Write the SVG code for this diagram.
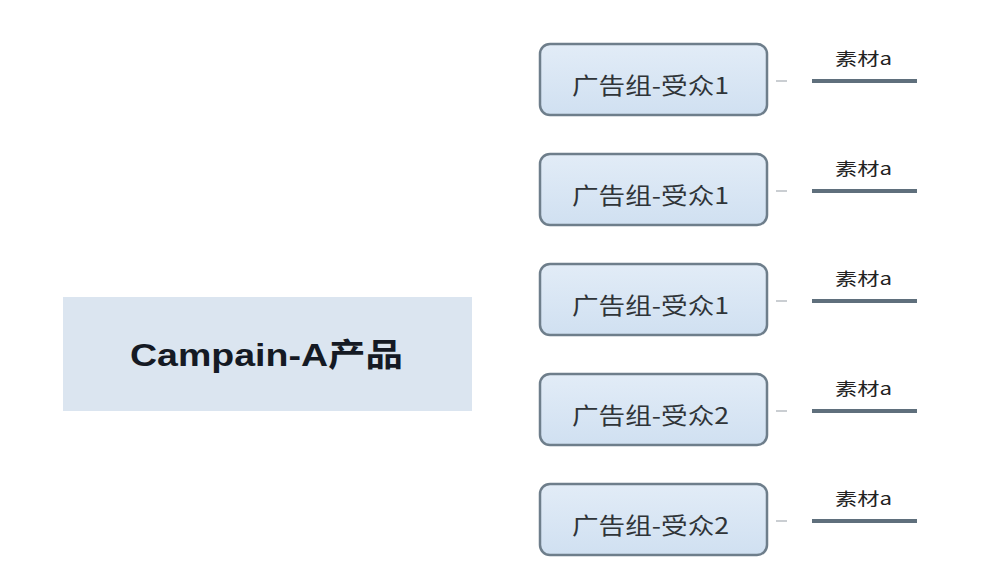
<svg xmlns="http://www.w3.org/2000/svg" width="996" height="571" viewBox="0 0 996 571">
<defs>
<linearGradient id="boxFill" x1="0" y1="0" x2="0" y2="1">
<stop offset="0" stop-color="#e2ecf7"/>
<stop offset="1" stop-color="#d0e0f1"/>
</linearGradient>
</defs>
<style>
.bg{fill:#ffffff}
.main{fill:#dbe5f0}
.mainText{font-family:"Liberation Sans","Noto Sans CJK SC",sans-serif;font-weight:bold;font-size:32px;fill:#151a24}
.box{fill:url(#boxFill);stroke:#6e7e8b;stroke-width:2.5}
.boxText{font-family:"Noto Sans CJK SC","Liberation Sans",sans-serif;font-size:23px;fill:#2f3438}
.leafText{font-family:"Noto Sans CJK SC","Liberation Sans",sans-serif;font-size:17px;fill:#222}
.leafLine{stroke:#5f6f7c;stroke-width:4}
.dash{stroke:#b8bec3;stroke-width:1.5}
</style>
<rect class="bg" x="0" y="0" width="996" height="571"/>
<g id="connectors">
<line class="dash" x1="776" y1="81" x2="787" y2="81"/>
<line class="dash" x1="776" y1="191" x2="787" y2="191"/>
<line class="dash" x1="776" y1="301" x2="787" y2="301"/>
<line class="dash" x1="776" y1="411" x2="787" y2="411"/>
<line class="dash" x1="776" y1="521" x2="787" y2="521"/>
</g>
<g id="root">
<rect class="main" x="63" y="297" width="409" height="114"/>
<text class="mainText" x="130" y="366" textLength="273" lengthAdjust="spacingAndGlyphs">Campain-A产品</text>
</g>
<g id="group1">
<rect class="box" x="540" y="44" width="227" height="71" rx="10"/>
<text class="boxText" x="572" y="94" textLength="157" lengthAdjust="spacingAndGlyphs">广告组-受众1</text>
</g>
<g id="group2">
<rect class="box" x="540" y="154" width="227" height="71" rx="10"/>
<text class="boxText" x="572" y="204" textLength="157" lengthAdjust="spacingAndGlyphs">广告组-受众1</text>
</g>
<g id="group3">
<rect class="box" x="540" y="264" width="227" height="71" rx="10"/>
<text class="boxText" x="572" y="314" textLength="157" lengthAdjust="spacingAndGlyphs">广告组-受众1</text>
</g>
<g id="group4">
<rect class="box" x="540" y="374" width="227" height="71" rx="10"/>
<text class="boxText" x="572" y="424" textLength="157" lengthAdjust="spacingAndGlyphs">广告组-受众2</text>
</g>
<g id="group5">
<rect class="box" x="540" y="484" width="227" height="71" rx="10"/>
<text class="boxText" x="572" y="534" textLength="157" lengthAdjust="spacingAndGlyphs">广告组-受众2</text>
</g>
<g id="leaf1">
<text class="leafText" x="835" y="65" textLength="57" lengthAdjust="spacingAndGlyphs">素材a</text>
<line class="leafLine" x1="812" y1="81" x2="917" y2="81"/>
</g>
<g id="leaf2">
<text class="leafText" x="835" y="175" textLength="57" lengthAdjust="spacingAndGlyphs">素材a</text>
<line class="leafLine" x1="812" y1="191" x2="917" y2="191"/>
</g>
<g id="leaf3">
<text class="leafText" x="835" y="285" textLength="57" lengthAdjust="spacingAndGlyphs">素材a</text>
<line class="leafLine" x1="812" y1="301" x2="917" y2="301"/>
</g>
<g id="leaf4">
<text class="leafText" x="835" y="395" textLength="57" lengthAdjust="spacingAndGlyphs">素材a</text>
<line class="leafLine" x1="812" y1="411" x2="917" y2="411"/>
</g>
<g id="leaf5">
<text class="leafText" x="835" y="505" textLength="57" lengthAdjust="spacingAndGlyphs">素材a</text>
<line class="leafLine" x1="812" y1="521" x2="917" y2="521"/>
</g>
</svg>
